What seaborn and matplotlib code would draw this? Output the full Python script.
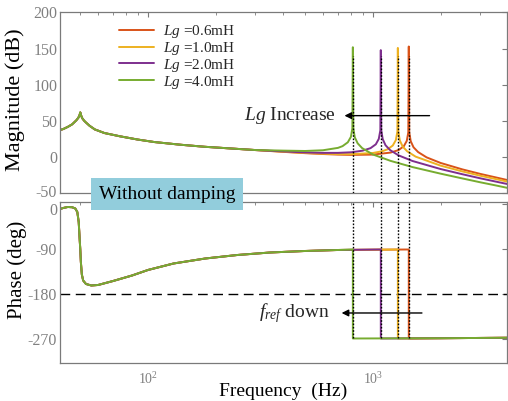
import numpy as np
import pandas as pd
import matplotlib
matplotlib.use("Agg")
import matplotlib.pyplot as plt
import matplotlib.ticker as mticker
import matplotlib.transforms as mtransforms
import seaborn as sns

# ---------------- data ----------------
series_names = ["0.6mH", "1.0mH", "2.0mH", "4.0mH"]
series_labels = ["$Lg$ =0.6mH", "$Lg$ =1.0mH", "$Lg$ =2.0mH", "$Lg$ =4.0mH"]
series_colors = ["#D95319", "#EDB120", "#7E2F8E", "#77AC30"]
resonance_hz = [1445, 1292, 1085, 815]

# magnitude, common low-frequency part (Hz, dB)
common_freq = [40, 42, 44, 46, 48, 49, 49.6, 50, 50.4, 51, 52, 53, 55, 58, 64, 75,
               90, 107, 140, 179, 230, 300]
common_mag = [37, 39, 42, 45.5, 51, 54.5, 58, 62, 58, 54, 50.5, 48, 43.5, 38.5, 33.5, 29,
              24.5, 21, 17.3, 14.5, 12.3, 10]

# magnitude, series specific part
freq_06 = [400, 500, 600, 700, 800, 1000, 1200, 1300.5, 1373, 1416, 1438, 1445, 1452,
           1474, 1517, 1590, 1734, 2000, 2500, 3000, 3500, 4000]
mag_06 = [7.5, 5.7, 4.5, 3.7, 3.3, 3.7, 6.5, 9.9, 15.2, 22.7, 34.5, 153, 34.4,
          22.2, 13.8, 7.2, -0.1, -7.8, -16.7, -22.9, -27.6, -31.7]
freq_10 = [400, 500, 600, 700, 800, 1000, 1100, 1163, 1227, 1266, 1286, 1292, 1298,
           1318, 1357, 1421, 1550, 2000, 2500, 3000, 3500, 4000]
mag_10 = [7.7, 6.0, 5.0, 4.4, 4.3, 5.9, 8.3, 11.0, 16.3, 23.8, 35.6, 151, 35.5,
          23.3, 14.9, 8.3, 0.9, -11.5, -19.5, -25.4, -29.9, -33.9]
freq_20 = [400, 500, 600, 700, 800, 900, 976.5, 1031, 1063, 1080, 1085, 1090, 1107,
           1139, 1194, 1300, 1500, 2000, 2500, 3000, 3500, 4000]
mag_20 = [8.1, 6.7, 6.1, 6.1, 6.9, 9.1, 12.6, 17.9, 25.4, 37.3, 148, 37.2, 24.9,
          16.6, 9.9, 2.7, -5.1, -16.2, -23.4, -29.0, -33.4, -37.2]
freq_40 = [400, 500, 600, 700, 733.5, 774, 799, 811, 815, 819, 831, 856, 896, 1000,
           1200, 1500, 2000, 2500, 3000, 3500, 4000]
mag_40 = [9.2, 8.7, 9.7, 13.0, 15.4, 20.7, 28.2, 40.0, 152, 40.0, 27.7, 19.3, 12.7, 3.9,
          -5.0, -13.5, -22.6, -29.2, -34.5, -38.7, -42.5]

# phase, common part (Hz, deg)
common_pfreq = [40, 42, 44, 46, 47.5, 48.5, 49.2, 49.7, 50, 50.3, 50.8, 51.5, 53, 56,
                60, 70, 85, 100, 130, 180, 250, 350, 500, 700]
common_phase = [-10, -7, -5, -5.5, -8, -15, -35, -70, -90, -115, -140, -152, -159, -162,
                -161, -153, -142, -131, -118, -108, -101, -96, -93, -91]
# phase just before the step and after it
phase_before_step = -90
phase_after = [-268, -267.5, -266.5]
phase_after_freq = [2000, 4000]

mag_tick_vals = [-50, 0, 50, 100, 150, 200]
phase_tick_vals = [0, -90, -180, -270]
phase_tick_labels = ["0", "-90", "-180", "-270"]

# ---------------- build long-form tables ----------------
spec_freq = [freq_06, freq_10, freq_20, freq_40]
spec_mag = [mag_06, mag_10, mag_20, mag_40]
mag_rows = []
ph_rows = []
for name, fr, mg, f0 in zip(series_names, spec_freq, spec_mag, resonance_hz):
    for f, m in zip(common_freq + fr, common_mag + mg):
        mag_rows.append((name, f, m))
    pf = common_pfreq + [f0, f0] + phase_after_freq
    pv = common_phase + [phase_before_step, phase_after[0]] + phase_after[1:]
    for f, p in zip(pf, pv):
        ph_rows.append((name, f, p))
mag_df = pd.DataFrame(mag_rows, columns=["series", "freq", "mag"])
ph_df = pd.DataFrame(ph_rows, columns=["series", "freq", "phase"])

# ---------------- style ----------------
sns.set_style("white")
plt.rcParams["font.family"] = ["Liberation Serif", "DejaVu Serif"]
plt.rcParams["mathtext.fontset"] = "custom"
plt.rcParams["mathtext.rm"] = "Liberation Serif"
plt.rcParams["mathtext.it"] = "Liberation Serif:italic"
plt.rcParams["axes.unicode_minus"] = False

spine_c = "#7a7a7a"
tick_c = "#808080"
palette = dict(zip(series_names, series_colors))

fig = plt.figure(figsize=(5.08, 4.01), dpi=100)
ax1 = fig.add_axes([0.118, 0.5175, 0.880, 0.4514])
ax2 = fig.add_axes([0.118, 0.0948, 0.880, 0.4015])

sns.lineplot(data=mag_df, x="freq", y="mag", hue="series", hue_order=series_names,
             palette=palette, estimator=None, sort=False, lw=1.4, ax=ax1)
sns.lineplot(data=ph_df, x="freq", y="phase", hue="series", hue_order=series_names,
             palette=palette, estimator=None, sort=False, lw=1.4, ax=ax2, legend=False)

for ax in (ax1, ax2):
    ax.set_xscale("log")
    ax.set_xlim(40.6, 3950)
    for s in ax.spines.values():
        s.set_color(spine_c)
        s.set_linewidth(0.9)
    ax.tick_params(which="both", direction="in", top=True, right=True,
                   colors=spine_c, labelcolor=tick_c)
    ax.tick_params(which="major", length=3.5, width=0.8)
    ax.tick_params(which="minor", length=2, width=0.6)
    ax.set_xlabel("")
    ax.set_ylabel("")

# top axes
ax1.set_ylim(-50, 200)
ax1.yaxis.set_major_locator(mticker.FixedLocator(mag_tick_vals))
ax1.tick_params(axis="y", labelsize=11.5, pad=2)
ax1.tick_params(axis="x", labelbottom=False)
ax1.vlines(resonance_hz, -50, 140, colors="k", linestyles=(0, (1.2, 1.2)), lw=1.0, zorder=5)
ax1.set_ylabel("Magnitude (dB)", fontsize=16, color="k")
ax1.yaxis.set_label_coords(-0.078, 0.516)

handles, _ = ax1.get_legend_handles_labels()
ax1.legend(handles, series_labels, loc="upper left", bbox_to_anchor=(0.112, 0.99),
           frameon=False, fontsize=11, handlelength=2.3, handletextpad=0.55,
           labelspacing=-0.02, borderaxespad=0.2)

ax1.annotate("", xy=(727, 57.5), xytext=(1839, 57.5),
             arrowprops=dict(arrowstyle="-|>", color="k", lw=1.0, mutation_scale=10))
ax1.text(689, 57.5, "$Lg$ Increase", ha="right", va="center", fontsize=14)

# bottom axes
ax2.set_ylim(-317, 5)
ax2.yaxis.set_major_locator(mticker.FixedLocator(phase_tick_vals))
ax2.yaxis.set_major_formatter(mticker.FixedFormatter(phase_tick_labels))
ax2.tick_params(axis="y", labelsize=11.5, pad=2)
ax2.tick_params(axis="x", labelsize=10, pad=6)
ax2.axhline(-180, color="k", ls=(0, (7, 4)), lw=1.0, zorder=1)
ax2.vlines(resonance_hz, -268, 5, colors="k", linestyles=(0, (1.2, 1.2)), lw=1.0, zorder=5)
ax2.set_ylabel("Phase (deg)", fontsize=15, color="k")
ax2.yaxis.set_label_coords(-0.074, 0.578)
ax2.set_xlabel("Frequency  (Hz)", fontsize=14, color="k")
ax2.xaxis.set_label_coords(0.5, -0.125)

ax2.annotate("", xy=(706, -217), xytext=(1701, -217),
             arrowprops=dict(arrowstyle="-|>", color="k", lw=1.0, mutation_scale=10))
ax2.text(643, -217, "$f_{ref}$ down", ha="right", va="center", fontsize=14)

# nudge the crowded "-50" / "0" tick labels apart like the reference
fig.canvas.draw()
for lab in ax2.get_yticklabels():
    if lab.get_text() == "0":
        lab.set_transform(lab.get_transform() +
                          mtransforms.ScaledTranslation(0, -3 / 72, fig.dpi_scale_trans))
for lab in ax1.get_yticklabels():
    if lab.get_text() == "-50":
        lab.set_transform(lab.get_transform() +
                          mtransforms.ScaledTranslation(0, 1.5 / 72, fig.dpi_scale_trans))

fig.text(0.3287, 0.5162, "Without damping", ha="center", va="center", fontsize=14,
         color="k", zorder=10,
         bbox=dict(boxstyle="square,pad=0.38", facecolor="#92CDDC", edgecolor="none"))

fig.savefig("out.png", dpi=100)
